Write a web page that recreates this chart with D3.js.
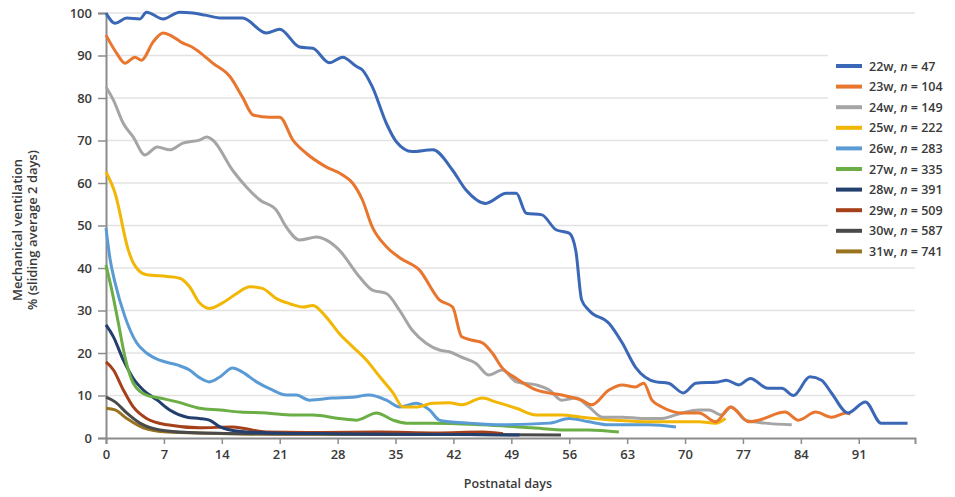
<!DOCTYPE html>
<html>
<head>
<meta charset="utf-8">
<script src="https://cdn.jsdelivr.net/npm/d3@7"></script>
<style>
  body { margin: 0; background: #fff; }
  text { font-family: "Open Sans", "Noto Sans", sans-serif; fill: #3a3a3a; }
</style>
</head>
<body>
<div id="chart"></div>
<script>
// data: [postnatal day, % ventilated]
var w22 = [[0,100],[1.1,97.6],[2.5,98.8],[4.1,98.6],[4.9,100.2],[6.9,98.6],[8.9,100.2],[10.5,100],[12,99.5],[14,98.8],[16.5,98.8],[19.4,95.3],[21,96.2],[23.4,92],[25,91.7],[27,88.3],[28.6,89.6],[30.3,87.4],[31,86.6],[32.2,82.6],[33.9,74],[35.1,69.7],[37,67.4],[39.5,67.8],[41.9,63],[43.5,58.4],[45.9,55.2],[48.4,57.6],[49.6,57.6],[50.8,52.9],[52.7,52.5],[54.4,49],[56,48.2],[56.8,44],[57.5,32.5],[58.4,30],[60.8,27],[62.4,22.4],[64,16.7],[66.5,13.2],[68,12.9],[69.8,10.6],[71.3,12.9],[74,13.2],[75,13.6],[76.5,12.5],[77.9,14],[80,11.7],[81.7,11.7],[83.1,10],[85.1,14.4],[86.5,13.6],[87.7,10.6],[89.7,5.9],[91.8,8.5],[93.7,3.5],[96.9,3.5]];
var w23 = [[0,94.8],[1.3,90.5],[2.3,88.2],[3.5,89.6],[4.3,88.9],[5.7,93.2],[6.9,95.3],[8.1,94.4],[9.3,92.9],[10.4,92],[11.3,90.8],[12.9,88.2],[15,85],[16.5,80.2],[17.8,76],[19.8,75.5],[21,75.5],[22.6,70.1],[24.2,67],[26.6,63.8],[28.6,61.9],[29.8,60],[31,56],[32.2,49.6],[33.9,45],[35.5,42.4],[37.9,39.5],[40.3,32.5],[41.9,30.8],[43,23.8],[44.3,23],[45.5,22.4],[46.7,20],[47.9,16.5],[49.6,14],[52,11.3],[55.1,10.1],[57.5,8.9],[58.7,7.8],[60.8,11.3],[62.4,12.5],[64,12],[65,12.9],[66,8.9],[67.2,7.3],[69.6,5.9],[71.7,5.9],[73.7,3.8],[75.5,7.3],[76.1,6.6],[77.7,3.8],[78.9,4.2],[82.1,6.1],[83.7,4.2],[85.8,6.1],[87.7,4.9],[89.5,5.9],[90,5.6]];
var w24 = [[0,82.6],[0.9,79.5],[2.1,74],[3.3,70.8],[4.7,66.6],[6.2,68.5],[7.7,67.8],[9.3,69.4],[11.3,70.1],[12.2,70.8],[12.9,70.1],[15.3,63],[17,59],[18.6,56],[20.6,53.6],[21.8,49.6],[23.4,46.6],[25.5,47.3],[26.6,46.6],[28.2,44.2],[30.6,38],[32.2,34.8],[33.9,34],[35.5,30],[37,25.4],[38.7,22.3],[40.3,20.7],[41.5,20.3],[43,19],[44.7,17.6],[46.3,14.8],[47.9,16],[49.6,13.2],[52,12.5],[53.6,11.3],[55.1,8.9],[56.8,9.4],[58.4,7.3],[60,4.9],[62.4,4.9],[64.8,4.6],[67.2,4.6],[69.6,5.9],[71.7,6.6],[72.9,6.6],[74.4,5.4],[75.6,7.3],[77.3,4.2],[79.7,3.5],[82.9,3.1]];
var w25 = [[0,62.6],[1.1,57.6],[2.7,44.2],[3.3,41.2],[4.9,38.4],[7.4,38],[8.9,37.6],[10.1,35.6],[11.3,31.8],[12.5,30.5],[14.1,31.8],[15.8,34],[17.4,35.6],[18.9,35.2],[20.6,32.8],[22.2,31.6],[23.8,30.8],[25,31.2],[26.6,28.5],[28.2,24.6],[29.8,21.5],[31.5,18.3],[33.1,14.4],[34.7,10.6],[35.9,7.3],[37.5,7.3],[39.5,8.2],[41.5,8.3],[43,7.8],[45.5,9.4],[47.1,8.5],[49.6,7],[52,5.4],[55.1,5.4],[57.5,4.9],[61.6,4.2],[65.6,3.8],[68.9,3.8],[71.7,3.8],[73.7,3.5],[74.9,4.6]];
var w26 = [[0,49.4],[0.5,42],[1.1,36.5],[2.3,28.5],[3.7,22.4],[4.9,20],[6.5,18.3],[8.6,17.2],[10.1,16],[11.3,14.2],[12.5,13.2],[13.8,14.4],[15.3,16.5],[16.5,15.5],[18.2,13.2],[20.1,11.3],[21.8,10.1],[23,10.1],[24.6,8.9],[27.4,9.4],[29.8,9.6],[31.8,10.1],[33.9,8.9],[35.5,7.3],[37.5,8.2],[39.1,6.6],[40.3,4.2],[41.5,3.8],[43.9,3.5],[47.5,3.1],[53.6,3.5],[56,4.6],[58.4,3.8],[60.8,3.1],[65.6,3.1],[68.9,2.6]];
var w27 = [[0,40.7],[0.7,34.8],[1.5,27],[2.3,19],[3.3,12.9],[4.9,10.1],[6.5,9.4],[8.6,8.5],[11.3,7],[13.8,6.6],[16.2,6.1],[19.4,5.9],[22.6,5.4],[25,5.4],[28.2,4.6],[30.3,4.2],[32.7,5.9],[34.7,4.2],[36.3,3.5],[39.5,3.5],[45.5,3.1],[51.5,2.4],[55.6,1.9],[58.4,1.9],[62,1.4]];
var w28 = [[0,26.6],[0.9,23.8],[2.1,18.3],[3.3,14],[4.5,11.3],[6.2,8.9],[7.7,6.6],[9.8,4.9],[11.3,4.6],[12.5,4.2],[13.8,2.6],[16,1.6],[20,1.2],[28,1],[36,0.9],[44,0.8],[50,0.7]];
var w29 = [[0,17.9],[0.9,16],[2.1,11.3],[3.3,7.3],[4.9,4.6],[7.4,3.1],[11.3,2.4],[15.3,2.6],[19.4,1.4],[26,1.3],[33,1.4],[40,1.2],[45.5,1.4],[48,1]];
var w30 = [[0,9.6],[1.1,8.5],[2.5,5.9],[4.1,3.5],[6.5,1.9],[10,1.3],[18,1],[30,0.9],[42,0.8],[55,0.7]];
var w31 = [[0,7],[1.1,6.6],[2.5,4.6],[4.5,2.4],[7.4,1.4],[12,1.1],[20,0.9],[30,0.9],[40,0.8],[45,0.8]];

var seriesNames = ["22w", "23w", "24w", "25w", "26w", "27w", "28w", "29w", "30w", "31w"];
var seriesN = [47, 104, 149, 222, 283, 335, 391, 509, 587, 741];
var seriesData = [w22, w23, w24, w25, w26, w27, w28, w29, w30, w31];
var colors = ["#3b68b6", "#e8762f", "#a5a5a5", "#f2b705", "#5a9bd5", "#6aae45", "#233f6e", "#a6401a", "#4a4a4a", "#9a7320"];
var xTicks = [0, 7, 14, 21, 28, 35, 42, 49, 56, 63, 70, 77, 84, 91];
var yTicks = [0, 10, 20, 30, 40, 50, 60, 70, 80, 90, 100];

var svgWidth = 955, svgHeight = 497;
var margin = { top: 13, right: 40, bottom: 59, left: 106 };
var width = svgWidth - margin.left - margin.right;
var height = svgHeight - margin.top - margin.bottom;

var svg = d3.select("#chart").append("svg")
  .attr("width", svgWidth)
  .attr("height", svgHeight);

var chartGroup = svg.append("g")
  .attr("transform", `translate(${margin.left}, ${margin.top})`);

var xScale = d3.scaleLinear().domain([0, 97.8]).range([0, width]);
var yScale = d3.scaleLinear().domain([0, 100]).range([height, 0]);

// gridlines
chartGroup.selectAll("line.grid")
  .data(yTicks.filter(d => d > 0))
  .enter().append("line")
  .attr("class", "grid")
  .attr("x1", 0).attr("x2", width)
  .attr("y1", d => yScale(d)).attr("y2", d => yScale(d))
  .attr("stroke", "#e3e3e3")
  .attr("stroke-width", 1.5);

// axes
var xAxis = d3.axisBottom(xScale).tickValues(xTicks).tickSize(6).tickPadding(6);
var yAxis = d3.axisLeft(yScale).tickValues(yTicks).tickSize(8).tickPadding(6);

var gx = chartGroup.append("g")
  .attr("transform", `translate(0, ${height})`)
  .call(xAxis);
var gy = chartGroup.append("g").call(yAxis);

[gx, gy].forEach(g => {
  g.select(".domain").attr("stroke", "#8c8c8c").attr("stroke-width", 2);
  g.selectAll(".tick line").attr("stroke", "#8c8c8c").attr("stroke-width", 1.5);
  g.selectAll(".tick text").style("font-size", "13px").style("font-weight", "600").attr("fill", "#3a3a3a");
});

// lines
var line = d3.line()
  .x(d => xScale(d[0]))
  .y(d => yScale(d[1]))
  .curve(d3.curveMonotoneX);

for (var i = seriesData.length - 1; i >= 0; i--) {
  chartGroup.append("path")
    .datum(seriesData[i])
    .attr("fill", "none")
    .attr("stroke", colors[i])
    .attr("stroke-width", 3)
    .attr("stroke-linejoin", "round")
    .attr("d", line);
}

// axis titles
svg.append("text")
  .attr("x", 508).attr("y", 488)
  .attr("text-anchor", "middle")
  .style("font-size", "12.5px")
  .style("font-weight", "600")
  .text("Postnatal days");

var yLabel = svg.append("text")
  .attr("transform", "translate(22, 230) rotate(-90)")
  .attr("text-anchor", "middle")
  .style("font-size", "13px")
  .style("font-weight", "600");
yLabel.append("tspan").attr("x", 0).attr("dy", 0).text("Mechanical ventilation");
yLabel.append("tspan").attr("x", 0).attr("dy", 15).text("% (sliding average 2 days)");

// legend
var legend = svg.append("g");
legend.append("rect")
  .attr("x", 828).attr("y", 45)
  .attr("width", 127).attr("height", 215)
  .attr("fill", "#fff");

var items = legend.selectAll("g.item")
  .data(seriesNames)
  .enter().append("g")
  .attr("transform", (d, i) => `translate(836, ${66 + i * 20.6})`);

items.append("line")
  .attr("x1", 0).attr("x2", 26)
  .attr("stroke", (d, i) => colors[i])
  .attr("stroke-width", 4);

var labels = items.append("text")
  .attr("x", 33).attr("y", 4.5)
  .style("font-size", "12.5px")
  .style("font-weight", "600");
labels.append("tspan").text(d => d + ", ");
labels.append("tspan").style("font-style", "italic").text("n");
labels.append("tspan").text((d, i) => " = " + seriesN[i]);
</script>
</body>
</html>
